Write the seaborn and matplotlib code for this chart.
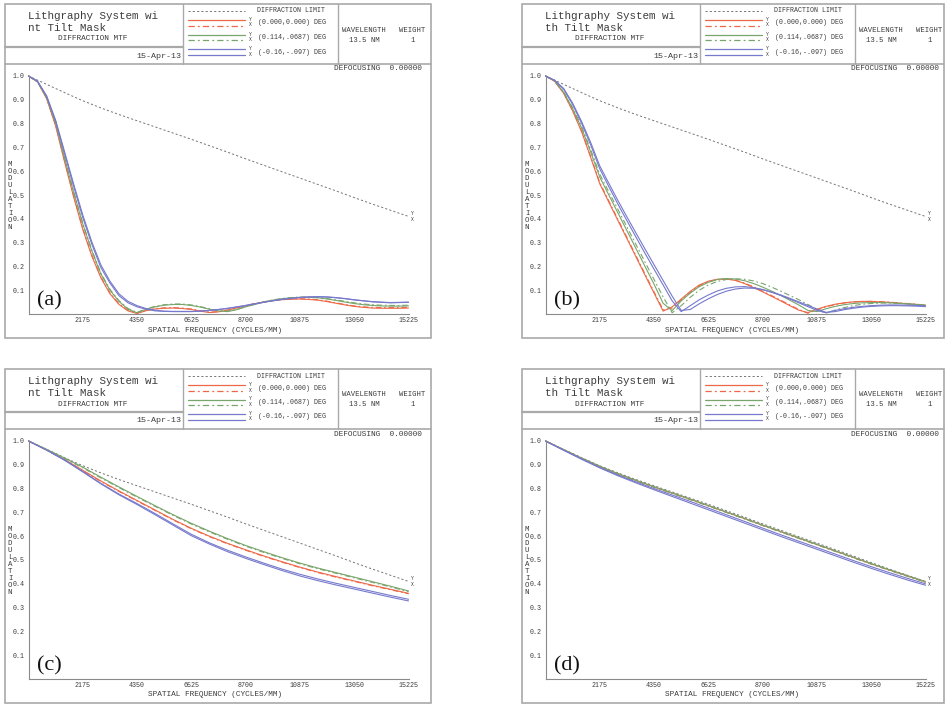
import matplotlib
matplotlib.use("Agg")
import matplotlib.pyplot as plt
import seaborn as sns

# spatial frequency grids (cycles/mm)
FREQ = [0, 725, 1450, 2175, 2900, 3625, 4350, 5075, 5800, 6525, 7250, 7975,
        8700, 9425, 10150, 10875, 11600, 12325, 13050, 13775, 14500, 15225]
FREQ_FINE = [0, 362.5, 725, 1087.5, 1450, 1812.5, 2175, 2537.5, 2900, 3262.5,
             3625, 3987.5, 4350, 4712.5, 5075, 5437.5, 5800, 6162.5, 6525,
             6887.5, 7250, 7612.5, 7975, 8337.5, 8700, 9062.5, 9425, 9787.5,
             10150, 10512.5, 10875, 11237.5, 11600, 11962.5, 12325, 12687.5,
             13050, 13412.5, 13775, 14137.5, 14500, 14862.5, 15225]
XTICKS = [2175, 4350, 6525, 8700, 10875, 13050, 15225]
YTICKS = [0.1, 0.2, 0.3, 0.4, 0.5, 0.6, 0.7, 0.8, 0.9, 1.0]

# diffraction limit (same for all panels)
DL = [1.0, 0.965, 0.93, 0.896, 0.866, 0.838, 0.812, 0.786, 0.76, 0.734, 0.707,
      0.68, 0.652, 0.625, 0.598, 0.571, 0.544, 0.517, 0.489, 0.462, 0.436, 0.41]

# (a) on the fine grid
RED_Y_A = [1.0, 0.975, 0.905, 0.79, 0.637, 0.49, 0.355, 0.243, 0.152, 0.085,
           0.04, 0.013, 0.002, 0.014, 0.021, 0.024, 0.025, 0.023, 0.019, 0.012,
           0.006, 0.009, 0.016, 0.025, 0.035, 0.043, 0.05, 0.056, 0.06, 0.062,
           0.063, 0.061, 0.058, 0.052, 0.045, 0.038, 0.032, 0.028, 0.025, 0.024,
           0.024, 0.024, 0.025]
RED_X_A = [1.0, 0.976, 0.907, 0.793, 0.642, 0.495, 0.36, 0.248, 0.156, 0.089,
           0.043, 0.016, 0.004, 0.015, 0.023, 0.026, 0.027, 0.025, 0.021, 0.014,
           0.008, 0.01, 0.017, 0.026, 0.036, 0.044, 0.051, 0.057, 0.061, 0.063,
           0.064, 0.063, 0.06, 0.054, 0.047, 0.04, 0.034, 0.03, 0.028, 0.027,
           0.027, 0.027, 0.028]
GREEN_Y_A = [1.0, 0.976, 0.91, 0.8, 0.652, 0.51, 0.378, 0.265, 0.168, 0.1,
             0.053, 0.02, 0.005, 0.02, 0.03, 0.037, 0.04, 0.04, 0.036, 0.029,
             0.02, 0.013, 0.01, 0.018, 0.03, 0.04, 0.05, 0.058, 0.064, 0.068,
             0.07, 0.07, 0.068, 0.063, 0.057, 0.05, 0.044, 0.039, 0.036, 0.034,
             0.033, 0.033, 0.034]
GREEN_X_A = [1.0, 0.976, 0.91, 0.802, 0.655, 0.514, 0.382, 0.269, 0.172, 0.104,
             0.056, 0.023, 0.007, 0.022, 0.032, 0.039, 0.042, 0.042, 0.038, 0.031,
             0.022, 0.015, 0.012, 0.019, 0.031, 0.041, 0.051, 0.059, 0.065, 0.069,
             0.071, 0.071, 0.069, 0.065, 0.059, 0.053, 0.047, 0.042, 0.039, 0.037,
             0.036, 0.036, 0.037]
BLUE_Y_A = [1.0, 0.978, 0.915, 0.81, 0.672, 0.535, 0.405, 0.293, 0.195, 0.13,
            0.077, 0.047, 0.03, 0.02, 0.013, 0.011, 0.01, 0.01, 0.01, 0.012,
            0.015, 0.019, 0.024, 0.03, 0.036, 0.043, 0.05, 0.056, 0.062, 0.066,
            0.07, 0.072, 0.073, 0.072, 0.069, 0.065, 0.06, 0.056, 0.052, 0.05,
            0.048, 0.049, 0.05]
BLUE_X_A = [1.0, 0.978, 0.917, 0.814, 0.68, 0.545, 0.416, 0.303, 0.206, 0.138,
            0.085, 0.053, 0.035, 0.023, 0.016, 0.012, 0.011, 0.011, 0.011, 0.012,
            0.015, 0.019, 0.023, 0.029, 0.035, 0.042, 0.049, 0.055, 0.061, 0.065,
            0.069, 0.071, 0.072, 0.071, 0.068, 0.064, 0.059, 0.055, 0.051, 0.049,
            0.047, 0.048, 0.049]

# (b) on the fine grid
RED_Y_B = [1.0, 0.978, 0.928, 0.853, 0.765, 0.657, 0.547, 0.47, 0.393, 0.317, 0.24,
           0.163, 0.088, 0.012, 0.03, 0.063, 0.095, 0.122, 0.138, 0.146, 0.147,
           0.141, 0.128, 0.111, 0.093, 0.074, 0.055, 0.035, 0.016, 0.006, 0.02,
           0.032, 0.041, 0.047, 0.051, 0.053, 0.053, 0.051, 0.049, 0.046, 0.043,
           0.04, 0.037]
RED_X_B = [1.0, 0.978, 0.929, 0.855, 0.768, 0.661, 0.552, 0.475, 0.398, 0.322, 0.245,
           0.168, 0.093, 0.018, 0.025, 0.058, 0.091, 0.119, 0.136, 0.145, 0.147,
           0.142, 0.13, 0.114, 0.096, 0.077, 0.058, 0.038, 0.019, 0.003, 0.017,
           0.03, 0.039, 0.046, 0.05, 0.052, 0.053, 0.052, 0.05, 0.047, 0.044,
           0.041, 0.038]
GREEN_Y_B = [1.0, 0.98, 0.932, 0.862, 0.78, 0.68, 0.575, 0.5, 0.425, 0.35, 0.275,
             0.2, 0.125, 0.045, 0.014, 0.055, 0.088, 0.115, 0.133, 0.145, 0.149,
             0.147, 0.14, 0.128, 0.113, 0.096, 0.078, 0.058, 0.038, 0.015, 0.01,
             0.022, 0.032, 0.039, 0.044, 0.047, 0.048, 0.048, 0.047, 0.045, 0.042,
             0.04, 0.037]
GREEN_X_B = [1.0, 0.98, 0.934, 0.867, 0.787, 0.69, 0.587, 0.513, 0.44, 0.366, 0.292,
             0.218, 0.145, 0.072, 0.005, 0.035, 0.07, 0.1, 0.122, 0.137, 0.145,
             0.148, 0.146, 0.139, 0.128, 0.113, 0.096, 0.078, 0.06, 0.04, 0.02,
             0.004, 0.016, 0.027, 0.035, 0.041, 0.044, 0.046, 0.046, 0.045, 0.043,
             0.04, 0.037]
BLUE_Y_B = [1.0, 0.982, 0.945, 0.88, 0.8, 0.71, 0.61, 0.535, 0.462, 0.392, 0.323,
            0.255, 0.188, 0.122, 0.055, 0.01, 0.035, 0.06, 0.08, 0.097, 0.108,
            0.114, 0.115, 0.111, 0.103, 0.091, 0.078, 0.063, 0.047, 0.031, 0.015,
            0.005, 0.015, 0.022, 0.028, 0.032, 0.035, 0.037, 0.038, 0.038, 0.037,
            0.036, 0.034]
BLUE_X_B = [1.0, 0.982, 0.948, 0.886, 0.808, 0.72, 0.622, 0.549, 0.477, 0.408, 0.34,
            0.273, 0.207, 0.141, 0.075, 0.015, 0.019, 0.043, 0.064, 0.082, 0.096,
            0.105, 0.109, 0.108, 0.102, 0.092, 0.08, 0.066, 0.051, 0.036, 0.021,
            0.007, 0.01, 0.018, 0.024, 0.029, 0.032, 0.034, 0.035, 0.035, 0.034,
            0.033, 0.031]

# (c)
RED_Y_C = [1.0, 0.963, 0.922, 0.877, 0.832, 0.79, 0.75, 0.71, 0.67, 0.633, 0.6,
           0.57, 0.543, 0.517, 0.493, 0.47, 0.449, 0.43, 0.412, 0.394, 0.377, 0.36]
RED_X_C = [1.0, 0.962, 0.92, 0.875, 0.83, 0.788, 0.748, 0.708, 0.668, 0.631, 0.598,
           0.568, 0.541, 0.515, 0.491, 0.468, 0.447, 0.428, 0.41, 0.392, 0.375, 0.358]
GREEN_Y_C = [1.0, 0.965, 0.928, 0.89, 0.848, 0.807, 0.767, 0.728, 0.69, 0.654, 0.621,
             0.59, 0.561, 0.535, 0.51, 0.487, 0.466, 0.447, 0.428, 0.409, 0.39, 0.37]
GREEN_X_C = [1.0, 0.964, 0.926, 0.887, 0.845, 0.804, 0.764, 0.725, 0.687, 0.651, 0.618,
             0.587, 0.558, 0.532, 0.507, 0.484, 0.463, 0.444, 0.425, 0.406, 0.387, 0.367]
BLUE_Y_C = [1.0, 0.962, 0.92, 0.872, 0.822, 0.777, 0.737, 0.695, 0.651, 0.608, 0.572,
            0.541, 0.513, 0.487, 0.462, 0.44, 0.42, 0.402, 0.385, 0.368, 0.351, 0.335]
BLUE_X_C = [1.0, 0.962, 0.919, 0.87, 0.82, 0.774, 0.733, 0.69, 0.646, 0.602, 0.567,
            0.535, 0.507, 0.481, 0.456, 0.433, 0.413, 0.395, 0.378, 0.361, 0.344, 0.328]

# (d)
RED_Y_D = [1.0, 0.963, 0.927, 0.893, 0.862, 0.834, 0.807, 0.781, 0.755, 0.728, 0.701,
           0.674, 0.646, 0.619, 0.592, 0.565, 0.538, 0.511, 0.484, 0.458, 0.433, 0.408]
RED_X_D = [1.0, 0.963, 0.926, 0.892, 0.861, 0.833, 0.806, 0.78, 0.754, 0.727, 0.7,
           0.673, 0.645, 0.618, 0.591, 0.564, 0.537, 0.51, 0.483, 0.457, 0.432, 0.407]
GREEN_Y_D = [1.0, 0.964, 0.928, 0.894, 0.863, 0.835, 0.808, 0.782, 0.756, 0.729, 0.702,
             0.675, 0.647, 0.62, 0.593, 0.566, 0.539, 0.512, 0.485, 0.459, 0.434, 0.409]
GREEN_X_D = [1.0, 0.963, 0.926, 0.892, 0.861, 0.833, 0.806, 0.78, 0.754, 0.727, 0.7,
             0.673, 0.645, 0.618, 0.591, 0.564, 0.537, 0.51, 0.483, 0.457, 0.432, 0.407]
BLUE_Y_D = [1.0, 0.962, 0.925, 0.889, 0.857, 0.828, 0.8, 0.773, 0.746, 0.718, 0.69,
            0.662, 0.634, 0.606, 0.579, 0.552, 0.525, 0.498, 0.472, 0.447, 0.423, 0.4]
BLUE_X_D = [1.0, 0.961, 0.923, 0.887, 0.854, 0.824, 0.795, 0.767, 0.739, 0.711, 0.683,
            0.655, 0.627, 0.599, 0.572, 0.545, 0.518, 0.491, 0.465, 0.44, 0.416, 0.394]

FIELDS = ['(0.000,0.000) DEG', '(0.114,.0687) DEG', '(-0.16,-.097) DEG']

sns.set_style("white")
plt.rcParams['font.family'] = ['Liberation Mono', 'DejaVu Sans Mono']

RED = '#ee6847'
GREEN = '#78a56c'
BLUE = '#7679cc'
GREY = '#767676'
FRAME = '#a9a9a9'
INK = '#3c3c3c'
DASH = (0, (2.2, 2.2))
DASHDOT = (0, (5, 2.5, 1.5, 2.5))
COLORS = [RED, GREEN, BLUE]
X_STYLES = [DASHDOT, DASHDOT, '-']

W, H = 948, 707
fig = plt.figure(figsize=(W / 100, H / 100), dpi=100)
bg = fig.add_axes([0, 0, 1, 1])
bg.set_xlim(0, W)
bg.set_ylim(H, 0)
bg.axis('off')


def px_axes(x0, y0, x1, y1):
    return fig.add_axes([x0 / W, 1 - y1 / H, (x1 - x0) / W, (y1 - y0) / H])


def panel(bx, by, bw, tag, title2, freq, curves):
    r = bx + bw
    # header / frame
    bg.add_patch(plt.Rectangle((bx, by), bw, 334, fill=False, ec=FRAME, lw=1.2))
    bg.plot([bx, r], [by + 60, by + 60], color=FRAME, lw=1.2)
    for cx in (bx + 178, bx + 333):
        bg.plot([cx, cx], [by, by + 60], color=FRAME, lw=1.0)
    bg.plot([bx, bx + 178], [by + 43, by + 43], color=FRAME, lw=1.6)

    bg.text(bx + 23, by + 12, 'Lithgraphy System wi', fontsize=7.8, color=INK, va='center')
    bg.text(bx + 23, by + 24, title2, fontsize=7.8, color=INK, va='center')
    bg.text(bx + 88, by + 35, 'DIFFRACTION MTF', fontsize=5.6, color=INK, va='center', ha='center')
    bg.text(bx + 176, by + 52, '15-Apr-13', fontsize=6.0, color=INK, va='center', ha='right')

    # legend block
    bg.plot([bx + 183, bx + 240], [by + 7, by + 7], color=GREY, lw=0.7, ls=DASH)
    bg.text(bx + 252, by + 7, 'DIFFRACTION LIMIT', fontsize=4.8, color=INK, va='center')
    for i, (name, col, xs) in enumerate(zip(FIELDS, COLORS, X_STYLES)):
        y0 = by + 16 + i * 14.5
        bg.plot([bx + 183, bx + 240], [y0, y0], color=col, lw=0.9)
        bg.plot([bx + 183, bx + 240], [y0 + 5.5, y0 + 5.5], color=col, lw=0.9, ls=xs)
        bg.text(bx + 245, y0 - 0.5, 'Y', fontsize=3.4, color=INK, va='center', ha='center')
        bg.text(bx + 245, y0 + 5, 'X', fontsize=3.4, color=INK, va='center', ha='center')
        bg.text(bx + 253, y0 + 3, name, fontsize=4.8, color=INK, va='center')

    bg.text(bx + 359, by + 26, 'WAVELENGTH', fontsize=5.2, color=INK, va='center', ha='center')
    bg.text(bx + 407, by + 26, 'WEIGHT', fontsize=5.2, color=INK, va='center', ha='center')
    bg.text(bx + 359, by + 36, '13.5 NM', fontsize=5.2, color=INK, va='center', ha='center')
    bg.text(bx + 408, by + 36, '1', fontsize=5.2, color=INK, va='center', ha='center')
    bg.text(bx + 417, by + 65, 'DEFOCUSING  0.00000', fontsize=5.6, color=INK, va='center', ha='right')

    bg.text(bx + 5, by + 192, '\n'.join('MODULATION'), fontsize=5.3, color=INK,
            va='center', ha='center', linespacing=0.98)
    bg.text(bx + 210, by + 326, 'SPATIAL FREQUENCY (CYCLES/MM)', fontsize=5.6,
            color=INK, va='center', ha='center')
    bg.text(bx + 32, by + 297, tag, fontsize=16, color='#111111', va='center',
            family='Liberation Serif')

    # plot area
    ax = px_axes(bx + 23.5, by + 72, bx + 403.5, by + 310)
    ax.set_facecolor('none')
    sns.lineplot(x=FREQ, y=DL, ax=ax, color=GREY, lw=0.7, linestyle=DASH, clip_on=False)
    for fr, vals, col, ls in curves:
        sns.lineplot(x=fr, y=vals, ax=ax, color=col, lw=0.8, linestyle=ls, clip_on=False)
    ax.annotate('Y', xy=(FREQ[-1], DL[-1]), xytext=(2, 0.5), textcoords='offset points',
                fontsize=3.4, color=INK, va='bottom')
    ax.annotate('X', xy=(FREQ[-1], DL[-1]), xytext=(2, -0.5), textcoords='offset points',
                fontsize=3.4, color=INK, va='top')

    ax.set_xlim(0, FREQ[-1])
    ax.set_ylim(0, 1.0)
    ax.set_xticks(XTICKS)
    ax.set_xticklabels([str(t) for t in XTICKS])
    ax.set_xticks(FREQ, minor=True)
    ax.set_yticks(YTICKS)
    ax.set_yticklabels(['%.1f' % v for v in YTICKS])
    ax.tick_params(which='both', direction='in', colors='#8a8a8a', labelcolor=INK,
                   labelsize=4.8, width=0.6)
    ax.tick_params(which='major', length=4, pad=2.5)
    ax.tick_params(which='minor', length=2.5)
    sns.despine(ax=ax)
    for s in ('left', 'bottom'):
        ax.spines[s].set_color('#8a8a8a')
        ax.spines[s].set_linewidth(0.8)
    ax.set_xlabel('')
    ax.set_ylabel('')
    return ax


def field_curves(freq, ry, rx, gy, gx, by_, bx_):
    return [(freq, ry, RED, '-'), (freq, rx, RED, DASHDOT),
            (freq, gy, GREEN, '-'), (freq, gx, GREEN, DASHDOT),
            (freq, by_, BLUE, '-'), (freq, bx_, BLUE, '-')]


panel(5, 4, 426, '(a)', 'nt Tilt Mask', FREQ_FINE,
      field_curves(FREQ_FINE, RED_Y_A, RED_X_A, GREEN_Y_A, GREEN_X_A, BLUE_Y_A, BLUE_X_A))
panel(522, 4, 422, '(b)', 'th Tilt Mask', FREQ_FINE,
      field_curves(FREQ_FINE, RED_Y_B, RED_X_B, GREEN_Y_B, GREEN_X_B, BLUE_Y_B, BLUE_X_B))
panel(5, 369, 426, '(c)', 'nt Tilt Mask', FREQ,
      field_curves(FREQ, RED_Y_C, RED_X_C, GREEN_Y_C, GREEN_X_C, BLUE_Y_C, BLUE_X_C))
panel(522, 369, 422, '(d)', 'th Tilt Mask', FREQ,
      field_curves(FREQ, RED_Y_D, RED_X_D, GREEN_Y_D, GREEN_X_D, BLUE_Y_D, BLUE_X_D))

fig.savefig('out.png', dpi=100, facecolor='white')
